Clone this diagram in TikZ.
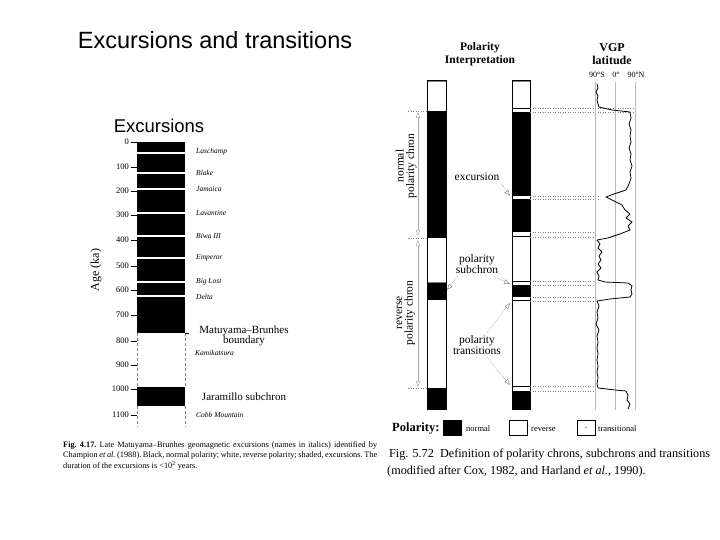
\documentclass[tikz,border=0pt]{standalone}
\usepackage{fontspec}
\setmainfont{Liberation Serif}
\newfontfamily\arialf{Liberation Sans}
\usetikzlibrary{arrows.meta}
\begin{document}
\begin{tikzpicture}[x=1pt,y=-1pt,
  ital/.style={font=\fontsize{7.5}{8}\selectfont\itshape, anchor=west, inner sep=0},
  tickl/.style={font=\fontsize{8.5}{9}\selectfont, anchor=east, inner sep=0},
  lab/.style={font=\fontsize{11.5}{10.5}\selectfont, align=center, inner sep=0},
  lbl/.style={font=\fontsize{11}{10.5}\selectfont, align=center, inner sep=0},
  legt/.style={font=\fontsize{8.5}{9}\selectfont, anchor=base west, inner sep=0},
  dotl/.style={gray, dotted, line width=0.5pt},
  chronarrow/.style={gray!70, line width=0.5pt, {Triangle[open,length=6pt,width=4.5pt]}-{Triangle[open,length=6pt,width=4.5pt]}},
  ptr/.style={gray, densely dotted, line width=0.5pt, -{Triangle[open,length=6pt,width=4.5pt]}},
  legbox/.style={draw, line width=0.6pt, minimum width=18pt, minimum height=15pt, inner sep=0},
]
\useasboundingbox (0,0) rectangle (720,540);

% ---------------- left panel ----------------
\node[font=\arialf\fontsize{23.5}{26}\selectfont] (title) at (215,40) {Excursions and transitions};
\node[font=\arialf\fontsize{18.5}{20}\selectfont] (exc) at (159,126) {Excursions};

% column
\fill (137,142) rectangle (185,333);
\fill (137,387) rectangle (185,406);
\foreach \y in {153,173,189,213,236,258,282,296}
  \draw[white, line width=1.2pt] (137,\y) -- (185,\y);
\draw[gray, densely dashed, line width=0.8pt] (137,333) -- (137,387) (185,333) -- (185,387)
  (137,406) -- (137,427) (185,406) -- (185,427);
\draw[line width=0.6pt] (185,333) -- (189,333);

% age axis
\foreach \t/\y [count=\i] in {0/142,100/167,200/191,300/215,400/240,500/266,600/290,700/315,800/341,900/365,1000/389,1100/415}{
  \draw[line width=0.6pt] (131,\y) -- (137,\y);
  \node[tickl] (tk\i) at (129,\y) {\t};
}
\node[rotate=90, font=\fontsize{12}{12}\selectfont] (age) at (96,270) {Age (ka)};

% excursion names
\node[ital] (e1) at (196,152) {Laschamp};
\node[ital] (e2) at (196,173) {Blake};
\node[ital] (e3) at (196,189) {Jamaica};
\node[ital] (e4) at (196,213) {Lavantine};
\node[ital] (e5) at (196,236) {Biwa III};
\node[ital] (e6) at (196,258) {Emperor};
\node[ital] (e7) at (196,282) {Big Lost};
\node[ital] (e8) at (196,297) {Delta};
\node[lbl] (mb) at (244,336) {Matuyama--Brunhes\\boundary};
\node[ital] (e9) at (195,353) {Kamikatsura};
\node[lbl] (jar) at (244,397) {Jaramillo subchron};
\node[ital] (e10) at (196,415) {Cobb Mountain};

% caption left
\node[anchor=north west, inner sep=0, font=\fontsize{8.3}{10.5}\selectfont\frenchspacing, align=left] (capl) at (63,441)
 {\makebox[314pt][s]{\textbf{Fig. 4.17.} Late Matuyama--Brunhes geomagnetic excursions (names in italics) identified by}\\
  \makebox[314pt][s]{Champion \textit{et al.} (1988). Black, normal polarity; white, reverse polarity; shaded, excursions. The}\\
  duration of the excursions is \textless10\textsuperscript{2} years.};

% ---------------- right panel ----------------
\node[font=\bfseries\fontsize{11.5}{13}\selectfont, align=center] (hpol) at (480,54) {Polarity\\Interpretation};
\node[font=\bfseries\fontsize{12}{13}\selectfont, align=center] (hvgp) at (612,54) {VGP\\latitude};
\node[font=\fontsize{8}{9}\selectfont, inner sep=0] (d1) at (597,75) {90°S};
\node[font=\fontsize{8}{9}\selectfont, inner sep=0] (d2) at (616,75) {0°};
\node[font=\fontsize{8}{9}\selectfont, inner sep=0] (d3) at (636,75) {90°N};

% column 1
\fill[gray] (427,80) rectangle (446,82);
\fill (427,111) rectangle (446,238);
\fill (427,283) rectangle (446,300);
\draw[gray, line width=1pt] (427,282.5) -- (446,282.5);
\fill (427,388) rectangle (446,409);
\draw[line width=0.5pt] (427,80) rectangle (446,409);

% column 2
\fill[gray] (512,80) rectangle (530,82);
\draw[line width=0.8pt] (512,108) -- (530,108);
\fill (512,112) rectangle (530,196);
\fill (512,199) rectangle (530,232);
\draw[line width=0.8pt] (512,236.5) -- (530,236.5);
\draw[line width=1pt] (512,281.5) -- (530,281.5);
\fill (512,285) rectangle (530,297);
\draw[line width=0.8pt] (512,300.5) -- (530,300.5);
\draw[line width=0.8pt] (512,386.5) -- (530,386.5);
\fill (512,391) rectangle (530,409);
\draw[line width=0.5pt] (512,80) rectangle (530,409);

% dotted guide lines
\foreach \y/\e in {108/635,112/635,196/600,199/600,232/597,237/597,281/597,285/597,297/597,301/597,386/597,391/597}
  \draw[dotl] (530,\y) -- (\e,\y);
\foreach \y in {111,238,388}
  \draw[dotl] (408,\y) -- (427,\y);

% chron arrows
\coordinate (na) at (418,112);
\coordinate (nb) at (418,236);
\coordinate (ra) at (418,240);
\coordinate (rb) at (418,387);
\draw[chronarrow] (na) -- (nb);
\draw[chronarrow] (ra) -- (rb);
\node[lab, rotate=90] (nchron) at (406,166) {normal\\polarity chron};
\node[lab, rotate=90] (rchron) at (406,313) {reverse\\polarity chron};

% middle labels and pointers
\node[lab] (excl) at (477,177) {excursion};
\node[lab] (subl) at (477,264) {polarity\\subchron};
\node[lab] (transl) at (477,345) {polarity\\transitions};
\coordinate (exctip) at (510,196);
\coordinate (sub1) at (447,290);
\coordinate (sub2) at (510,284);
\coordinate (tr1) at (510,303);
\coordinate (tr2) at (510,385);
\draw[ptr] ([shift={(2,3)}]excl.south east) -- (exctip);
\draw[ptr] ([shift={(2,3)}]subl.south west) -- (sub1);
\draw[ptr] ([shift={(-4,3)}]subl.south east) -- (sub2);
\draw[ptr] ([shift={(10,-3)}]transl.north) -- (tr1);
\draw[ptr] ([shift={(10,3)}]transl.south) -- (tr2);

% VGP frame and curve
\foreach \x in {595,615,635}
  \draw[gray!55, line width=0.6pt] (\x,82) -- (\x,410);
\draw[line width=0.8pt, line join=round] plot coordinates {
 (597,84) (598,88) (596,92) (598,96) (597,100) (598,104) (599,107) (612,110) (630,112)
 (631,118) (629,124) (631,130) (630,136) (631,142) (629,148) (631,154) (630,160) (632,166)
 (630,172) (631,178) (629,184) (626,190) (614,194) (606,197) (612,200) (622,205) (625,210)
 (630,214) (626,218) (632,222) (628,226) (630,230) (620,234) (608,238) (597,240) (600,244)
 (598,248) (602,252) (599,256) (601,260) (598,264) (601,268) (597,272) (599,276) (598,280)
 (605,282) (628,283) (632,286) (631,290) (632,294) (630,297) (610,299) (597,301) (599,306)
 (597,312) (598,318) (596,324) (599,330) (597,336) (598,342) (597,348) (598,354) (597,360)
 (598,366) (597,372) (598,378) (597,384) (598,388) (615,390) (626,391) (628,395) (627,400)
 (630,404) (628,409)};

% legend
\node[font=\bfseries\fontsize{12.5}{13}\selectfont, anchor=base west, inner sep=0] (leg) at (392,431) {Polarity:};
\node[legbox, fill=black] (lnorm) at (452.5,427.5) {};
\node[legt] (tnorm) at (466,431) {normal};
\node[legbox, fill=white] (lrev) at (518.5,427.5) {};
\node[legt] (trev) at (531,431) {reverse};
\node[legbox, fill=white] (ltrans) at (586,427.5) {};
\fill[gray] (ltrans.center) circle (0.8);
\node[legt] (ttrans) at (598,431) {transitional};

% caption right
\node[anchor=west, inner sep=0, font=\fontsize{12.2}{13}\selectfont] (capr1) at (389,455)
  {Fig. 5.72\enspace Definition of polarity chrons, subchrons and transitions};
\node[anchor=west, inner sep=0, font=\fontsize{12.2}{13}\selectfont] (capr2) at (387,472)
  {(modified after Cox, 1982, and Harland \textit{et al.}, 1990).};
\end{tikzpicture}
\end{document}
